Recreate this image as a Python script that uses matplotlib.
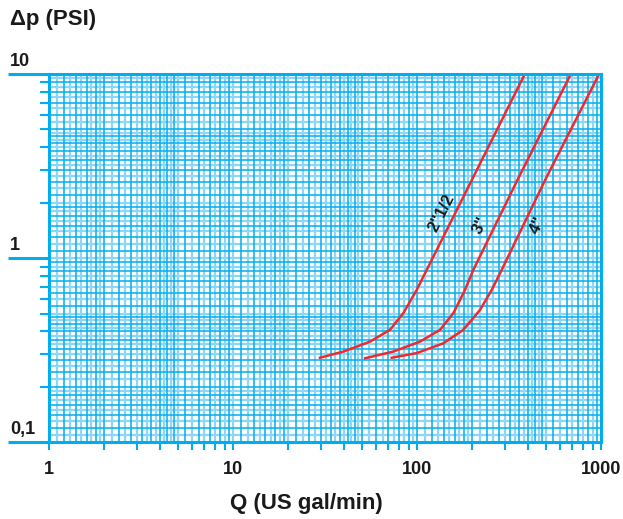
import matplotlib
matplotlib.use("Agg")
import matplotlib.pyplot as plt
import matplotlib.transforms as mtransforms
import numpy as np

# Flow rate Q (US gal/min) and pressure drop dp (PSI)
q_2half = [29.7, 39.8, 55.5, 71.3, 84.2, 99.6, 112.9, 200.8, 381.5]
dp_2half = [0.288, 0.311, 0.352, 0.408, 0.502, 0.672, 0.863, 2.716, 9.79]

q_3 = [52.2, 74.3, 103.8, 133.4, 157.5, 182.3, 202.3, 355.2, 678.5]
dp_3 = [0.286, 0.311, 0.352, 0.408, 0.502, 0.672, 0.863, 2.716, 9.79]

q_4 = [72.9, 99.6, 139.0, 178.5, 220.0, 254.7, 288.6, 502.4, 966.7]
dp_4 = [0.288, 0.305, 0.345, 0.408, 0.523, 0.672, 0.863, 2.716, 9.79]

curve_labels = ['2"1/2', '3"', '4"']
label_pos = [(136.3, 1.76), (222.8, 1.51), (451.6, 1.50)]

x_ticks = [1, 10, 100, 1000]
x_ticklabels = ["1", "10", "100", "1000"]
y_ticks = [0.1, 1, 10]
y_ticklabels = ["0,1", "1", "10"]

CYAN = "#00AEEF"
CYAN_LIGHT = "#8ED6F5"
RED = "#EE2A2E"
INK = "#1a1a1a"
FONT = "Liberation Sans"

W, H = 623, 519
fig = plt.figure(figsize=(W / 100, H / 100), dpi=100)
ax = fig.add_axes([49 / W, 1 - 442.3 / H, 552 / W, 368.3 / H])
ax.set_xscale("log")
ax.set_yscale("log")
ax.set_xlim(1, 1000)
ax.set_ylim(0.1, 10)


def paper_lines(lo_exp, hi_exp):
    vals = []
    for e in range(lo_exp, hi_exp):
        base = 10.0 ** e
        mants = np.concatenate([np.arange(1.0, 2.0, 0.1),
                                np.arange(2.0, 5.0, 0.2),
                                np.arange(5.0, 10.0, 0.5)])
        vals.extend(m * base for m in mants)
    return vals


# log paper grid: alternating dark / pale lines
for i, v in enumerate(paper_lines(0, 3)):
    if i % 2:
        ax.axvline(v, color=CYAN_LIGHT, lw=1.6, zorder=1)
    else:
        ax.axvline(v, color=CYAN, lw=1.1, zorder=2)
for i, v in enumerate(paper_lines(-1, 1)):
    if i % 2:
        ax.axhline(v, color=CYAN_LIGHT, lw=1.6, zorder=1)
    else:
        ax.axhline(v, color=CYAN, lw=1.1, zorder=2)

for q, dp in [(q_2half, dp_2half), (q_3, dp_3), (q_4, dp_4)]:
    ax.plot(q, dp, color=RED, lw=1.8, zorder=5, solid_joinstyle="round")

for txt, (x, y) in zip(curve_labels, label_pos):
    ax.text(x, y, txt, rotation=63, ha="center", va="center",
            fontsize=12, fontweight="bold", family=FONT, color=INK, zorder=6)

for s in ax.spines.values():
    s.set_color(CYAN)
    s.set_linewidth(2.2)
    s.set_zorder(7)

ax.set_xticks(x_ticks)
ax.set_xticklabels(x_ticklabels)
ax.xaxis.set_minor_locator(matplotlib.ticker.LogLocator(base=10, subs=np.arange(2, 10)))
ax.xaxis.set_minor_formatter(matplotlib.ticker.NullFormatter())
ax.tick_params(axis="x", which="both", direction="out", length=5.5, width=1.5,
               color=CYAN, pad=8)
for lab in ax.get_xticklabels():
    lab.set_fontfamily(FONT)
    lab.set_fontweight("bold")
    lab.set_fontsize(13)
    lab.set_color(INK)

ax.set_yticks(y_ticks)
ax.set_yticklabels([])
ax.yaxis.set_minor_locator(matplotlib.ticker.LogLocator(base=10, subs=np.arange(2, 10)))
ax.yaxis.set_minor_formatter(matplotlib.ticker.NullFormatter())
ax.tick_params(axis="y", which="major", direction="out", length=29.5, width=2.2, color=CYAN)
ax.tick_params(axis="y", which="minor", direction="out", length=6.5, width=1.5, color=CYAN)

trans = mtransforms.blended_transform_factory(fig.transFigure, ax.transData)
trans = trans + mtransforms.ScaledTranslation(0, 4 / 100, fig.dpi_scale_trans)
for v, lab in zip(y_ticks, y_ticklabels):
    ax.text(10 / W, v, lab, transform=trans, ha="left", va="bottom",
            fontsize=13, fontweight="bold", family=FONT, color=INK)

fig.text(10 / W, 1 - 20 / H, "Δp (PSI)", ha="left", va="center",
         fontsize=16, fontweight="bold", family=FONT, color=INK)
fig.text(306 / W, 1 - 504 / H, "Q (US gal/min)", ha="center", va="center",
         fontsize=16, fontweight="bold", family=FONT, color=INK)

fig.savefig("out.png", dpi=100)
